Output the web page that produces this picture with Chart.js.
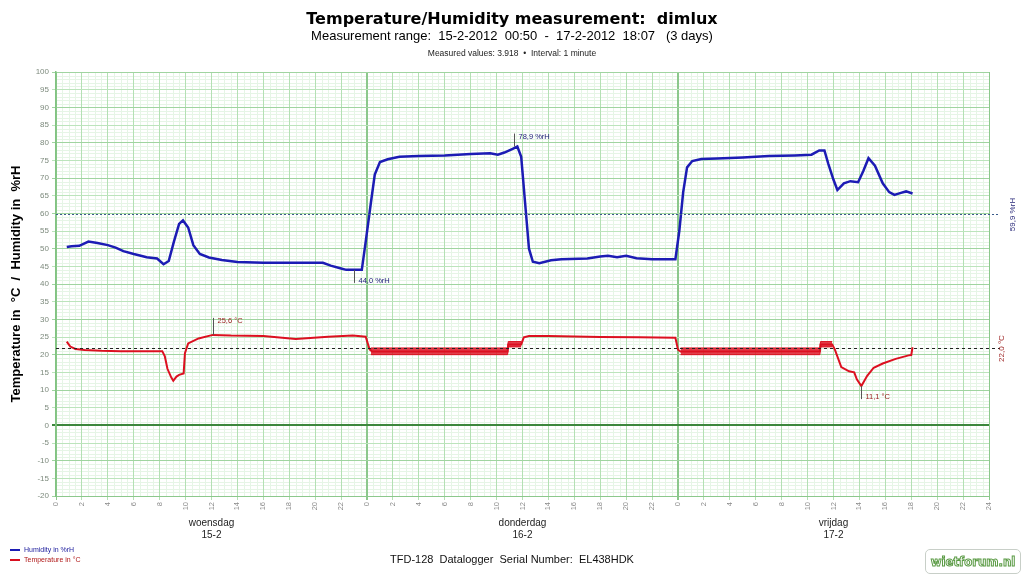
<!DOCTYPE html>
<html>
<head>
<meta charset="utf-8">
<script src="https://cdn.jsdelivr.net/npm/chart.js@4.4.1/dist/chart.umd.min.js"></script>
<style>
  body { margin: 0; background: #fff; }
  #wrap { position: relative; width: 1024px; height: 576px; overflow: hidden; }
  canvas { position: absolute; left: 0; top: 0; }
  .t { position: absolute; left: 0; width: 1024px; text-align: center; white-space: pre; color: #000; }
  #title { top: 9px; font: bold 16px "DejaVu Sans"; }
  #sub { top: 28px; font: 13px "Liberation Sans"; }
  #info { top: 48px; font: 8.5px "Liberation Sans"; color: #222; }
  #serial { top: 553px; font: 11px "Liberation Sans"; color: #111; }
  .lg { position: absolute; left: 10px; font: 7px "Liberation Sans"; white-space: pre; }
  .lg span { display: inline-block; width: 10px; height: 2px; vertical-align: middle; margin-right: 4px; }
  #wm { position: absolute; left: 925px; top: 549px; width: 94px; height: 23px; border: 1px solid #c8cfc8;
        border-radius: 5px; font: bold 13px "DejaVu Sans Condensed", "DejaVu Sans"; color: #fff; text-align: center;
        line-height: 23px; -webkit-text-stroke: 1px #5b9b45; }
</style>
</head>
<body>
<div id="wrap">
  <canvas id="myChart" width="1024" height="576"></canvas>
  <div class="t" id="title">Temperature/Humidity measurement:  dimlux</div>
  <div class="t" id="sub">Measurement range:  15-2-2012  00:50  -  17-2-2012  18:07   (3 days)</div>
  <div class="t" id="info">Measured values: 3.918  •  Interval: 1 minute</div>
  <div class="t" id="serial">TFD-128  Datalogger  Serial Number:  EL438HDK</div>
  <div class="lg" style="top:546px;color:#1c1c9c"><span style="background:#1c1cb4"></span>Humidity in %rH</div>
  <div class="lg" style="top:556px;color:#b01818"><span style="background:#d81020"></span>Temperature in °C</div>
  <div id="wm">wietforum.nl</div>
</div>
<script>
// 時間は 15-2 00:00 からの経過時間 (h)
const humTime = [0.83, 1.2, 1.8, 2.5, 3.2, 4.0, 4.6, 5.2, 6.0, 7.0, 7.8, 8.3, 8.7, 9.1, 9.5, 9.8, 10.2, 10.6, 11.1, 11.8, 12.8, 14.0, 16, 18, 20.6, 21.2, 22.0, 22.4, 23.6,
  23.9, 24.3, 24.6, 25.0, 25.6, 26.5, 28, 30, 32, 33.5, 34.1, 34.6, 35.2, 35.6, 35.9, 36.2, 36.5, 36.8, 37.3, 38.2, 39, 41, 42, 42.6, 43.3, 44, 44.8, 46, 47.8,
  48.1, 48.4, 48.7, 49.1, 49.8, 51, 53, 55, 57, 58.3, 58.9, 59.3, 59.6, 60.0, 60.3, 60.8, 61.3, 61.9, 62.3, 62.7, 63.2, 63.8, 64.3, 64.7, 65.2, 65.6, 66.1];
const humValue = [50.5, 50.7, 50.8, 52.0, 51.6, 51.0, 50.3, 49.3, 48.5, 47.6, 47.2, 45.6, 46.5, 52, 57, 58, 56, 51, 48.5, 47.5, 46.8, 46.2, 46, 46, 46, 45.2, 44.4, 44.0, 44.0,
  52, 63, 71, 74.5, 75.3, 76, 76.2, 76.4, 76.8, 77, 76.6, 77.2, 78.2, 78.9, 76, 63, 50, 46.3, 45.9, 46.7, 47, 47.2, 47.8, 48, 47.6, 48, 47.3, 47, 47,
  55, 66, 73, 74.8, 75.4, 75.5, 75.8, 76.2, 76.4, 76.6, 77.8, 77.8, 74, 69.5, 66.6, 68.5, 69.1, 68.8, 72, 75.6, 73.5, 68.5, 66, 65.2, 65.8, 66.2, 65.6];

const tempTime = [0.83, 1.1, 1.5, 2.2, 3.5, 5, 8.2, 8.4, 8.6, 8.9, 9.05, 9.3, 9.5, 9.85, 9.95, 10.2, 11, 12.1, 13.5, 16, 18.5, 21, 22.9, 23.9, 24.2, 24.4,
  34.85, 34.9, 35.9, 36.1, 36.5, 38, 42, 45, 47.8, 48.0, 48.2, 58.95, 59.0, 59.9, 60.1, 60.6, 61.2, 61.6, 61.8, 62.15, 62.6, 63.1, 63.8, 64.8, 65.8, 66.0, 66.1];
const tempValue = [23.7, 22.3, 21.6, 21.3, 21.1, 21.0, 21.0, 19.5, 16.0, 13.5, 12.6, 13.8, 14.3, 14.7, 20.4, 23.2, 24.6, 25.6, 25.4, 25.3, 24.4, 25.1, 25.4, 25.1, 21.5, 20.9,
  20.9, 22.9, 22.9, 24.9, 25.3, 25.3, 25.0, 24.9, 24.8, 21.4, 20.9, 21.0, 22.9, 22.9, 21.5, 16.5, 15.3, 15.0, 13.0, 11.1, 14.0, 16.3, 17.5, 18.8, 19.8, 19.9, 22.1];

// 温度のノイズ帯 (下限・上限)
const bandTime = [24.3, 34.85, 34.9, 35.9, 42, 48.2, 58.95, 59.0, 59.9];
const bandLow  = [20.0, 20.0, 22.2, 22.2, null, 20.0, 20.0, 22.2, 22.2];
const bandHigh = [21.9, 21.9, 23.7, 23.7, null, 21.9, 21.9, 23.7, 23.7];

// 最小・最大のマーカー
const markTime = [23.0, 35.35, 12.1, 62.15];
const markValue = [44.0, 78.9, 25.6, 11.1];
const markText = ['44,0 %rH', '78,9 %rH', '25,6 °C', '11,1 °C'];
const markKind = ['min', 'max', 'max', 'min'];
const markSeries = ['hum', 'hum', 'temp', 'temp'];

// 平均値
const avgValue = [59.9, 22.0];
const avgText = ['59,9 %rH', '22,0 °C'];

const xTickLabels = ['0', '2', '4', '6', '8', '10', '12', '14', '16', '18', '20', '22', '0', '2', '4', '6', '8', '10', '12', '14', '16', '18', '20', '22',
  '0', '2', '4', '6', '8', '10', '12', '14', '16', '18', '20', '22', '24'];
const dayNames = ['woensdag', 'donderdag', 'vrijdag'];
const dayDates = ['15-2', '16-2', '17-2'];

const HUM = '#1c1cb4';
const TEMP = '#dc1020';

const pts = (xs, ys) => xs.map((x, i) => ({ x: x, y: ys[i] }));

// 細かいグリッド
const minorGrid = {
  id: 'minorGrid',
  beforeDraw(chart) {
    const { ctx, chartArea: { left, right, top, bottom }, scales: { x, y } } = chart;
    ctx.save();
    ctx.strokeStyle = 'rgb(230,245,230)';
    ctx.lineWidth = 1;
    ctx.beginPath();
    for (let v = -20; v <= 100; v++) {
      if (v % 5 === 0) continue;
      const py = Math.round(y.getPixelForValue(v)) + 0.5;
      ctx.moveTo(left, py); ctx.lineTo(right, py);
    }
    for (let h = 0; h <= 72; h += 0.5) {
      if (h % 2 === 0) continue;
      const px = Math.round(x.getPixelForValue(h)) + 0.5;
      ctx.moveTo(px, top); ctx.lineTo(px, bottom);
    }
    ctx.stroke();
    ctx.restore();
  }
};

// 平均線とマーカー
const annotations = {
  id: 'annotations',
  afterDatasetsDraw(chart) {
    const { ctx, chartArea: { left, right }, scales: { x, y } } = chart;
    ctx.save();
    // 平均線
    avgValue.forEach((v, i) => {
      const py = Math.round(y.getPixelForValue(v)) + 0.5;
      ctx.beginPath();
      ctx.setLineDash(i === 0 ? [2, 2] : [3, 3]);
      ctx.strokeStyle = i === 0 ? '#3a5a8a' : '#222';
      ctx.lineWidth = 1;
      ctx.moveTo(left, py);
      ctx.lineTo(right + 11, py);
      ctx.stroke();
      ctx.setLineDash([]);
      ctx.save();
      ctx.translate(i === 0 ? right + 24 : right + 13, py);
      ctx.rotate(-Math.PI / 2);
      ctx.font = '8px "Liberation Sans"';
      ctx.fillStyle = i === 0 ? '#2a2a7a' : '#a02828';
      ctx.textAlign = 'center';
      ctx.textBaseline = 'middle';
      ctx.fillText(avgText[i], 0, 0);
      ctx.restore();
    });
    // 最小・最大マーカー
    markTime.forEach((t, i) => {
      const px = Math.round(x.getPixelForValue(t)) + 0.5;
      const py = y.getPixelForValue(markValue[i]);
      const up = markKind[i] === 'max';
      const len = markSeries[i] === 'temp' && up ? 17 : 13;
      ctx.beginPath();
      ctx.strokeStyle = '#555';
      ctx.lineWidth = 1;
      ctx.moveTo(px, py);
      ctx.lineTo(px, up ? py - len : py + len);
      ctx.stroke();
      ctx.font = '7.5px "Liberation Sans"';
      ctx.fillStyle = markSeries[i] === 'hum' ? '#22227a' : '#9a2020';
      ctx.textAlign = 'left';
      ctx.textBaseline = 'middle';
      ctx.fillText(markText[i], px + 4, up ? py - len + 3 : py + len - 2);
    });
    ctx.restore();
  }
};

// 日付ラベル
const dayLabels = {
  id: 'dayLabels',
  afterDraw(chart) {
    const { ctx, scales: { x } } = chart;
    ctx.save();
    ctx.font = '10px "Liberation Sans"';
    ctx.fillStyle = '#222';
    ctx.textAlign = 'center';
    ctx.textBaseline = 'middle';
    dayNames.forEach((name, i) => {
      const px = x.getPixelForValue(12 + 24 * i);
      ctx.fillText(name, px, 523);
      ctx.fillText(dayDates[i], px, 535);
    });
    ctx.restore();
  }
};

const config = {
  type: 'line',
  data: {
    datasets: [
      { label: 'Humidity in %rH', data: pts(humTime, humValue), borderColor: HUM, borderWidth: 2.5, pointRadius: 0, order: 1 },
      { label: 'Temperature in °C', data: pts(tempTime, tempValue), borderColor: TEMP, borderWidth: 2, pointRadius: 0, order: 2 },
      { label: 'band low', data: pts(bandTime, bandLow), borderColor: TEMP, borderWidth: 1, pointRadius: 0, fill: false, order: 3 },
      { label: 'band high', data: pts(bandTime, bandHigh), borderColor: TEMP, borderWidth: 1, pointRadius: 0, fill: '-1', backgroundColor: 'rgba(220,16,32,0.8)', order: 3 }
    ]
  },
  options: {
    responsive: false,
    animation: false,
    spanGaps: false,
    layout: { padding: { left: 0, right: 35, top: 72, bottom: 0 } },
    scales: {
      x: {
        type: 'linear',
        min: 0,
        max: 72,
        afterFit(scale) { scale.height = 80; },
        afterBuildTicks(scale) { scale.ticks = xTickLabels.map((l, i) => ({ value: i * 2 })); },
        ticks: {
          autoSkip: false,
          minRotation: 90,
          maxRotation: 90,
          padding: 2,
          color: '#8a8a8a',
          font: { family: 'Liberation Sans', size: 7.5 },
          callback: (v, i) => xTickLabels[i]
        },
        grid: {
          color: (c) => (c.tick && c.tick.value % 24 === 0) ? 'rgb(140,200,140)' : 'rgb(180,224,180)',
          lineWidth: (c) => (c.tick && c.tick.value % 24 === 0 && c.tick.value > 0 && c.tick.value < 72) ? 2 : 1,
          tickLength: 4
        },
        border: { color: 'rgb(140,200,140)' }
      },
      y: {
        min: -20,
        max: 100,
        afterFit(scale) { scale.width = 56; },
        ticks: {
          stepSize: 5,
          padding: 3,
          color: '#7d8a7d',
          font: { family: 'Liberation Sans', size: 8 }
        },
        grid: {
          color: (c) => {
            const v = c.tick ? c.tick.value : 1;
            if (v === 0) return 'rgb(60,135,60)';
            if (v % 10 === 0) return 'rgb(160,212,160)';
            return 'rgb(188,228,188)';
          },
          lineWidth: (c) => (c.tick && c.tick.value === 0) ? 2 : 1,
          tickLength: 4
        },
        border: { color: 'rgb(130,195,130)', width: 1.5 },
        title: {
          display: true,
          text: 'Temperature in  °C  /  Humidity in  %rH',
          color: '#000',
          font: { family: 'Liberation Sans', size: 13, weight: 'bold' },
          padding: { top: 9, bottom: 0 }
        }
      }
    },
    plugins: {
      legend: { display: false },
      tooltip: { enabled: false },
      title: { display: false }
    },
    elements: { line: { tension: 0 } }
  },
  plugins: [minorGrid, annotations, dayLabels]
};

const myChart = new Chart(document.getElementById('myChart'), config);
</script>
</body>
</html>
